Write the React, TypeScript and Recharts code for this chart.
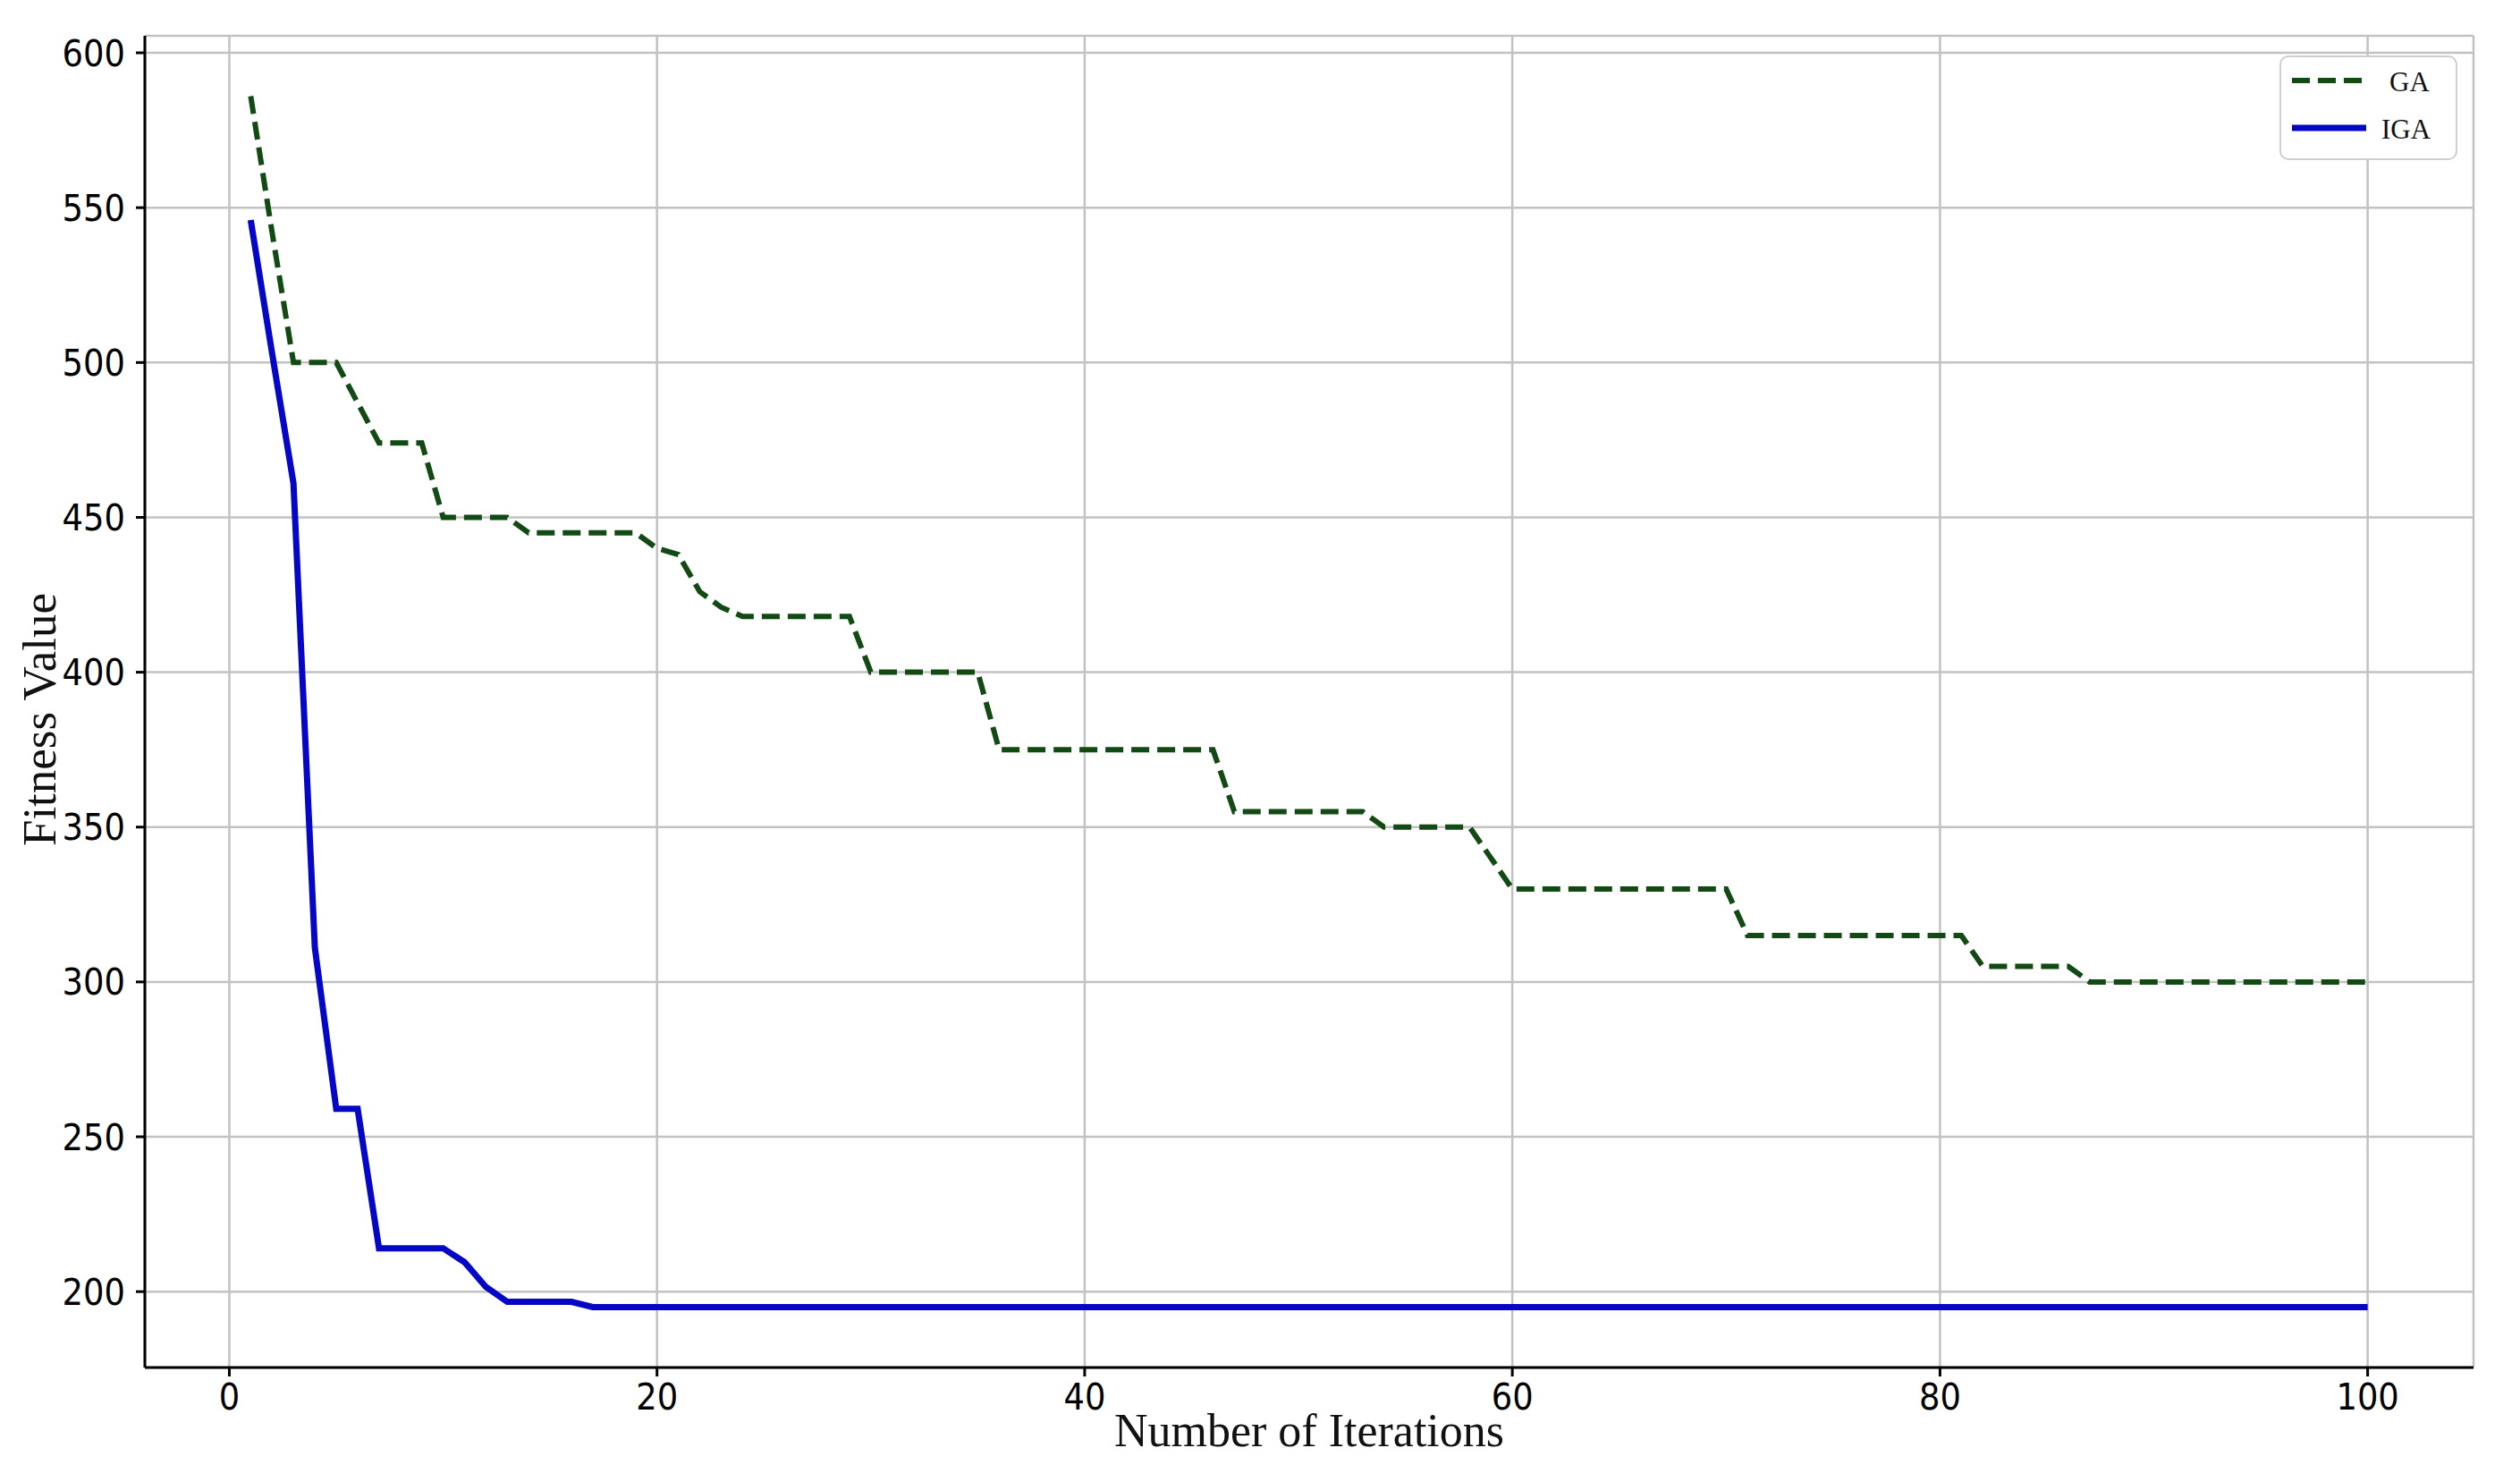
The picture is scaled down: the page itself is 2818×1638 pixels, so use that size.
import React from 'react';
import { LineChart, Line, XAxis, YAxis, CartesianGrid, Legend } from 'recharts';

const iterations = [
  1, 2, 3, 4, 5, 6, 7, 8, 9, 10,
  11, 12, 13, 14, 15, 16, 17, 18, 19, 20,
  21, 22, 23, 24, 25, 26, 27, 28, 29, 30,
  31, 32, 33, 34, 35, 36, 37, 38, 39, 40,
  41, 42, 43, 44, 45, 46, 47, 48, 49, 50,
  51, 52, 53, 54, 55, 56, 57, 58, 59, 60,
  61, 62, 63, 64, 65, 66, 67, 68, 69, 70,
  71, 72, 73, 74, 75, 76, 77, 78, 79, 80,
  81, 82, 83, 84, 85, 86, 87, 88, 89, 90,
  91, 92, 93, 94, 95, 96, 97, 98, 99, 100,
];

const gaValues = [
  586, 542, 500, 500, 500, 487, 474, 474, 474, 450,
  450, 450, 450, 445, 445, 445, 445, 445, 445, 440,
  438, 426, 421, 418, 418, 418, 418, 418, 418, 400,
  400, 400, 400, 400, 400, 375, 375, 375, 375, 375,
  375, 375, 375, 375, 375, 375, 355, 355, 355, 355,
  355, 355, 355, 350, 350, 350, 350, 350, 340, 330,
  330, 330, 330, 330, 330, 330, 330, 330, 330, 330,
  315, 315, 315, 315, 315, 315, 315, 315, 315, 315,
  315, 305, 305, 305, 305, 305, 300, 300, 300, 300,
  300, 300, 300, 300, 300, 300, 300, 300, 300, 300,
];

const igaValues = [
  546, 503, 461, 311, 259, 259, 214, 214, 214, 214,
  209.5, 201.5, 196.7, 196.7, 196.7, 196.7, 195, 195, 195, 195,
  195, 195, 195, 195, 195, 195, 195, 195, 195, 195,
  195, 195, 195, 195, 195, 195, 195, 195, 195, 195,
  195, 195, 195, 195, 195, 195, 195, 195, 195, 195,
  195, 195, 195, 195, 195, 195, 195, 195, 195, 195,
  195, 195, 195, 195, 195, 195, 195, 195, 195, 195,
  195, 195, 195, 195, 195, 195, 195, 195, 195, 195,
  195, 195, 195, 195, 195, 195, 195, 195, 195, 195,
  195, 195, 195, 195, 195, 195, 195, 195, 195, 195,
];

const xTicks = [0, 20, 40, 60, 80, 100];
const yTicks = [200, 250, 300, 350, 400, 450, 500, 550, 600];
const xDomain = [-3.95, 104.95];
const yDomain = [175.5, 605.5];

const GA_COLOR = '#124a14';
const IGA_COLOR = '#0606c6';
const GRID_COLOR = '#c2c2c2';

const data = iterations.map((it, i) => ({ x: it, GA: gaValues[i], IGA: igaValues[i] }));

const tickFont = "'Liberation Sans Narrow', 'DejaVu Sans Condensed', 'Liberation Sans', sans-serif";
const serifFont = "'Liberation Serif', 'DejaVu Serif', serif";

const legendStyles: Record<string, { dash?: string; width: number; textX: number }> = {
  GA: { dash: '20 9', width: 6, textX: 123 },
  IGA: { width: 7, textX: 114 },
};

const renderLegend = (props: any) => {
  const payload = (props && props.payload) || [];
  return (
    <svg width={200} height={118} style={{ display: 'block' }}>
      <rect x={1} y={1} width={197} height={115} rx={9} ry={9} fill="#ffffff" stroke="#cfcfcf" strokeWidth={2} />
      {payload.map((entry: any, i: number) => {
        const name = String(entry.value);
        const st = legendStyles[name] || { width: 6, textX: 120 };
        const ly = 28 + i * 53;
        return (
          <g key={name}>
            <line x1={14} x2={97} y1={ly} y2={ly} stroke={entry.color} strokeWidth={st.width} strokeDasharray={st.dash} />
            <text x={st.textX} y={ly + 12} fontSize={31} fontFamily={serifFont} fill="#111">{name}</text>
          </g>
        );
      })}
    </svg>
  );
};

const XLabel = (props: any) => {
  const vb = props.viewBox || { x: 0, y: 0, width: 0, height: 0 };
  return (
    <text x={vb.x + vb.width / 2} y={vb.y + 88} textAnchor="middle" fontSize={52} fontFamily={serifFont} fill="#111">
      Number of Iterations
    </text>
  );
};

const YLabel = (props: any) => {
  const vb = props.viewBox || { x: 0, y: 0, width: 0, height: 0 };
  const cx = vb.x + 62;
  const cy = vb.y + vb.height / 2 + 20;
  return (
    <text x={cx} y={cy} transform={`rotate(-90 ${cx} ${cy})`} textAnchor="middle" fontSize={53} fontFamily={serifFont} fill="#111">
      Fitness Value
    </text>
  );
};

export default function App() {
  return (
    <div style={{ position: 'absolute', left: 0, top: 0, width: 2818, height: 1638, background: '#ffffff' }}>
      <LineChart width={2818} height={1638} data={data} margin={{ top: 40, right: 52, bottom: 0, left: 0 }}>
        <CartesianGrid stroke={GRID_COLOR} strokeWidth={2.5} />
        <XAxis
          dataKey="x"
          type="number"
          domain={xDomain}
          ticks={xTicks}
          allowDataOverflow
          height={109}
          axisLine={{ stroke: '#000', strokeWidth: 3 }}
          tickLine={{ stroke: '#000', strokeWidth: 3 }}
          tickSize={10}
          tickMargin={8}
          tick={{ fill: '#000', fontSize: 41, fontFamily: tickFont }}
          label={{ content: XLabel }}
        />
        <XAxis
          xAxisId="top"
          orientation="top"
          dataKey="x"
          type="number"
          domain={xDomain}
          allowDataOverflow
          height={0}
          tick={false}
          tickLine={false}
          axisLine={{ stroke: '#000', strokeWidth: 3 }}
        />
        <YAxis
          type="number"
          domain={yDomain}
          ticks={yTicks}
          allowDataOverflow
          width={162}
          axisLine={{ stroke: '#000', strokeWidth: 3 }}
          tickLine={{ stroke: '#000', strokeWidth: 3 }}
          tickSize={10}
          tickMargin={12}
          tick={{ fill: '#000', fontSize: 41, fontFamily: tickFont }}
          label={{ content: YLabel }}
        />
        <YAxis
          yAxisId="right"
          orientation="right"
          type="number"
          domain={yDomain}
          allowDataOverflow
          width={0}
          tick={false}
          tickLine={false}
          axisLine={{ stroke: '#000', strokeWidth: 3 }}
        />
        <Line
          type="linear"
          dataKey="GA"
          name="GA"
          stroke={GA_COLOR}
          strokeWidth={6}
          strokeDasharray="20 9"
          dot={false}
          activeDot={false}
          isAnimationActive={false}
        />
        <Line
          type="linear"
          dataKey="IGA"
          name="IGA"
          stroke={IGA_COLOR}
          strokeWidth={7}
          dot={false}
          activeDot={false}
          isAnimationActive={false}
        />
        <Legend
          layout="vertical"
          align="center"
          verticalAlign="middle"
          content={renderLegend}
          wrapperStyle={{ position: 'absolute', left: 2549, top: 62, width: 200, height: 118 }}
        />
      </LineChart>
    </div>
  );
}
